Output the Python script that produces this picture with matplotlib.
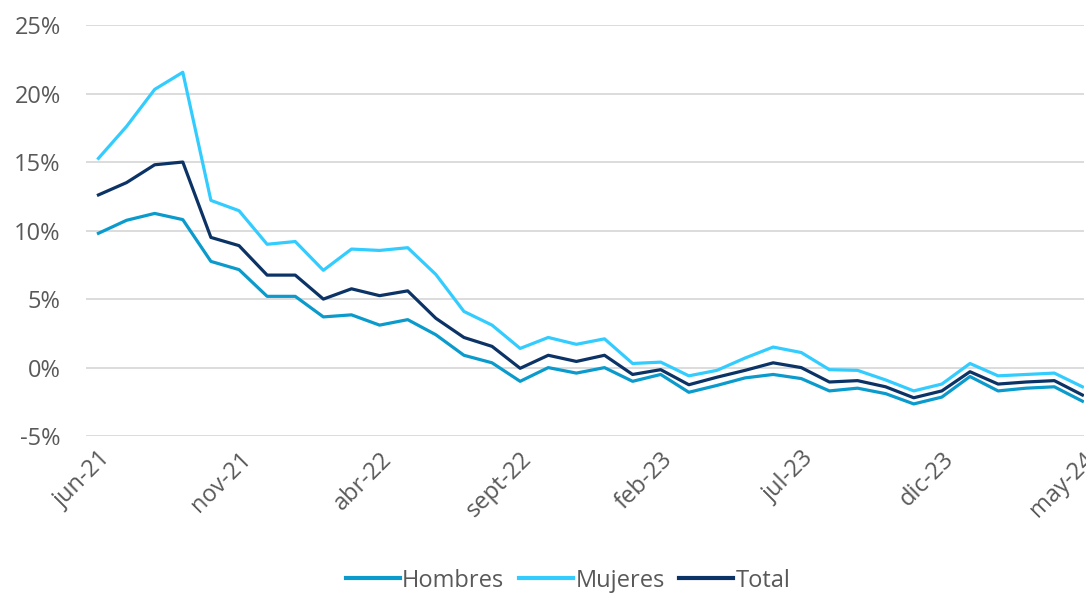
import matplotlib.pyplot as plt
import matplotlib.ticker as mticker

# meses jun-21 .. may-24
meses = ['jun-21', 'jul-21', 'ago-21', 'sept-21', 'oct-21', 'nov-21', 'dic-21',
         'ene-22', 'feb-22', 'mar-22', 'abr-22', 'may-22', 'jun-22', 'jul-22',
         'ago-22', 'sept-22', 'oct-22', 'nov-22', 'dic-22', 'ene-23', 'feb-23',
         'mar-23', 'abr-23', 'may-23', 'jun-23', 'jul-23', 'ago-23', 'sept-23',
         'oct-23', 'nov-23', 'dic-23', 'ene-24', 'feb-24', 'mar-24', 'abr-24',
         'may-24']

hombres = [9.8, 10.75, 11.25, 10.8, 7.75, 7.15, 5.2, 5.2, 3.7, 3.85, 3.1, 3.5,
           2.4, 0.9, 0.35, -1.0, 0.0, -0.4, 0.0, -1.0, -0.5, -1.8, -1.3, -0.75,
           -0.5, -0.8, -1.7, -1.5, -1.9, -2.65, -2.15, -0.65, -1.7, -1.5, -1.4,
           -2.45]
mujeres = [15.27, 17.6, 20.3, 21.55, 12.2, 11.45, 9.0, 9.2, 7.1, 8.65, 8.55, 8.75,
           6.8, 4.1, 3.1, 1.4, 2.2, 1.7, 2.1, 0.3, 0.4, -0.6, -0.2, 0.7,
           1.5, 1.1, -0.15, -0.2, -0.9, -1.7, -1.2, 0.3, -0.6, -0.5, -0.4,
           -1.4]
total = [12.6, 13.5, 14.8, 15.0, 9.5, 8.9, 6.75, 6.75, 5.0, 5.75, 5.25, 5.6,
         3.6, 2.2, 1.55, -0.05, 0.9, 0.45, 0.9, -0.5, -0.15, -1.25, -0.7, -0.2,
         0.35, 0.0, -1.05, -0.95, -1.4, -2.2, -1.7, -0.3, -1.2, -1.05, -0.95,
         -2.0]

plt.rcParams['font.family'] = ['Open Sans', 'DejaVu Sans']

fig = plt.figure(figsize=(10.86, 5.95), dpi=100)
ax = fig.add_axes([0.079, 0.267, 0.919, 0.691])

x = list(range(len(meses)))
ax.plot(x, hombres, color='#0A9BCC', lw=2.3, label='Hombres')
ax.plot(x, mujeres, color='#33CCFF', lw=2.3, label='Mujeres')
ax.plot(x, total, color='#0B3366', lw=2.3, label='Total')

ax.set_ylim(-5, 25)
ax.set_xlim(-0.45, 35.05)
ax.yaxis.set_major_locator(mticker.MultipleLocator(5))
ax.yaxis.set_major_formatter(mticker.FuncFormatter(lambda v, p: f'{v:.0f}%'))
ax.grid(axis='y', color='#D9D9D9', lw=1.3)
ax.set_axisbelow(True)

ticks = x[::5]
ax.set_xticks(ticks)
ax.set_xticklabels([meses[i] for i in ticks], rotation=45, ha='right',
                   rotation_mode='anchor')
ax.tick_params(axis='both', length=0, labelsize=17, colors='#595959')
ax.tick_params(axis='x', pad=8)
ax.tick_params(axis='y', pad=18)

for s in ax.spines.values():
    s.set_visible(False)

leg = fig.legend(loc='center', bbox_to_anchor=(0.523, 0.024), ncol=3, frameon=False,
                 fontsize=17, handlelength=2.3, handletextpad=0.1, columnspacing=0.6)
for line in leg.get_lines():
    line.set_linewidth(3)
for t in leg.get_texts():
    t.set_color('#595959')

fig.savefig('out.png', dpi=100)
